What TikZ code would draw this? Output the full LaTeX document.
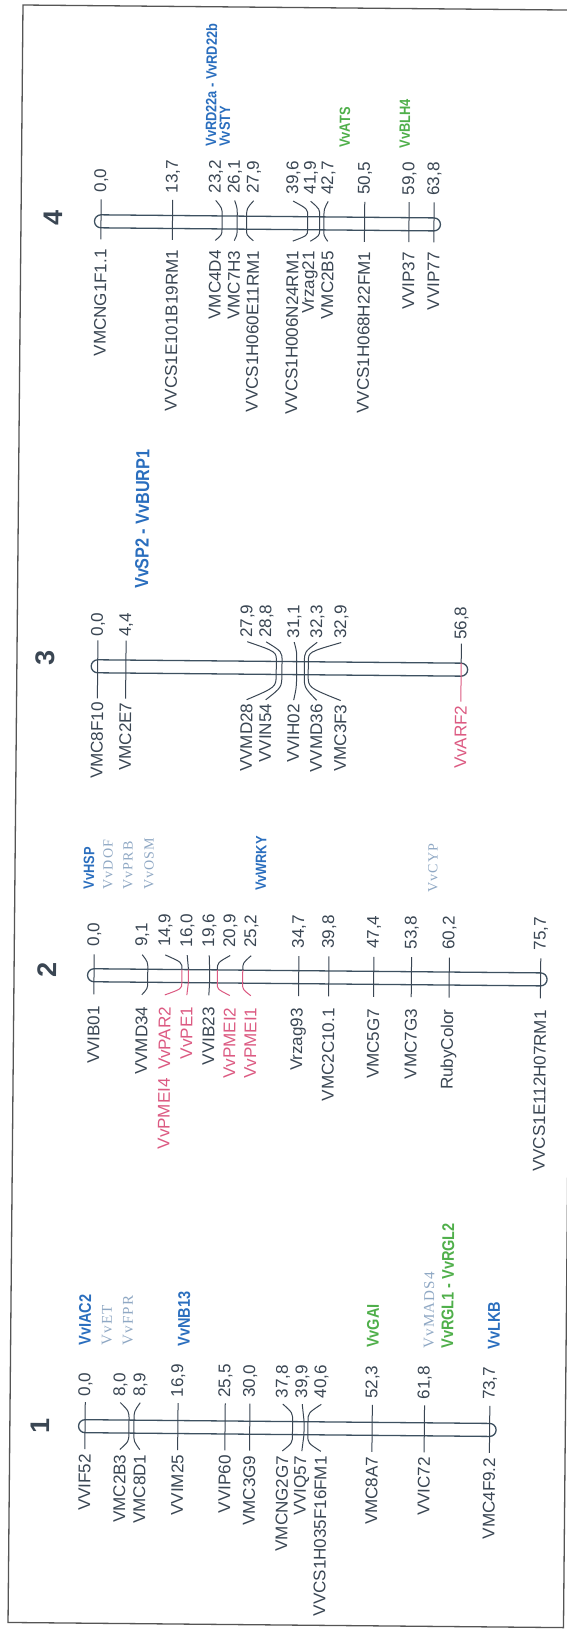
\documentclass[tikz,border=0pt]{standalone}
\usepackage{fontspec}
\setmainfont{Liberation Sans}
\newfontfamily\lblfont{Liberation Sans}
\newfontfamily\genefont[FakeStretch=0.85]{Liberation Sans}
\newfontfamily\lightfont[LetterSpace=8]{Liberation Serif}
\definecolor{ink}{HTML}{3A4653}
\definecolor{barc}{HTML}{3D5060}
\definecolor{gblue}{HTML}{2A6EBE}
\definecolor{ggreen}{HTML}{4FAF4A}
\definecolor{glight}{HTML}{8FA8C4}
\definecolor{pinkc}{HTML}{DC5A82}
\definecolor{framec}{HTML}{555555}
% #1 id, #2 bar x, #3 label x, #4 name, #5 number, #6 name colour, #7 name-side tick colour
\newcommand\mrkgen[7]{%
  \draw[mline,draw=ink] (#3,{\cY-\cTn}) .. controls (#2,{\cY-\cHw-0.5*(\cTn-\cHw)}) .. (#2,{\cY-\cHw});
  \draw[mline,draw=#7] (#2,{\cY-\cHw}) -- (#2,{\cY+\cHw});
  \draw[mline,draw=#7] (#2,{\cY+\cHw}) .. controls (#2,{\cY+\cHw+0.5*(\cTs-\cHw)}) .. (#3,{\cY+\cTs});
  \node[numlbl] (#1n) at (#3,{\cY-\cLn}) {#5};
  \node[namelbl,text=#6] (#1m) at (#3,{\cY+\cLs}) {#4};
}
\newcommand\mrk[5]{\mrkgen{#1}{#2}{#3}{#4}{#5}{ink}{ink}}
\newcommand\mrkp[5]{\mrkgen{#1}{#2}{#3}{#4}{#5}{pinkc}{pinkc}}
\begin{document}
\begin{tikzpicture}[x=1pt,y=-1pt,
  txt/.style={rotate=89.47, inner sep=0pt, outer sep=0pt},
  numlbl/.style={txt, anchor=west, text=ink, font=\lblfont\fontsize{17}{17}\selectfont},
  namelbl/.style={txt, anchor=east, font=\lblfont\fontsize{17}{17}\selectfont},
  gene/.style={txt, anchor=west, font=\genefont\bfseries\fontsize{15}{15}\selectfont},
  midgene/.style={txt, anchor=west, font=\genefont\bfseries\fontsize{17}{17}\selectfont},
  biggene/.style={txt, anchor=west, font=\genefont\bfseries\fontsize{19}{19}\selectfont},
  lgene/.style={txt, anchor=west, text=glight, font=\lightfont\fontsize{14}{14}\selectfont},
  midlgene/.style={txt, anchor=west, text=glight, font=\lightfont\fontsize{15}{15}\selectfont},
  chrnum/.style={txt, anchor=center, text=ink, font=\lblfont\bfseries\fontsize{27}{27}\selectfont},
  mline/.style={line width=1pt},
  chrbar/.style={draw=barc, line width=1.3pt, fill=white, rounded corners=6.5pt},
]
\useasboundingbox (0,0) rectangle (567,1631);
\fill[white] (0,0) rectangle (567,1631);
\clip (0,0) rectangle (567,1631);
\begin{scope}[rotate around={-0.53:(283,815)}]
\draw[framec, line width=1.3pt] (15.5,7.4) rectangle (571,1625);
\def\cHw{6.5}
% ---------------- chromosome 4
\def\cY{223}\def\cTn{22}\def\cTs{18}\def\cLn{29}\def\cLs{28}
\node[chrnum] (c4) at (47.5,220) {4};
\draw[chrbar] (89,216.5) rectangle (435,229.5);
\mrk{a1}{95.5}{95.5}{VMCNG1F1.1}{0,0}
\mrk{a2}{167}{167}{VVCS1E101B19RM1}{13,7}
\mrk{a3}{216.6}{210}{VMC4D4}{23,2}
\mrk{a4}{231.7}{229}{VMC7H3}{26,1}
\mrk{a5}{241.1}{248}{VVCS1H060E11RM1}{27,9}
\mrk{a6}{302.2}{287.5}{VVCS1H006N24RM1}{39,6}
\mrk{a7}{314.2}{305}{Vrzag21}{41,9}
\mrk{a8}{318.4}{322.5}{VMC2B5}{42,7}
\mrk{a9}{359.1}{359.1}{VVCS1H068H22FM1}{50,5}
\mrk{a10}{403.5}{403.5}{VVIP37}{59,0}
\mrk{a11}{428.5}{428.5}{VVIP77}{63,8}
\node[gene,text=gblue] (g4a) at (204.5,147) {VvRD22a - VvRD22b};
\node[gene,text=gblue] (g4b) at (218.5,147) {VvSTY};
\node[gene,text=ggreen] (g4c) at (338.5,147) {VvATS};
\node[gene,text=ggreen] (g4d) at (398.5,147) {VvBLH4};
% ---------------- chromosome 3
\def\cY{668}\def\cTn{26}\def\cTs{32}\def\cLn{30}\def\cLs{36}
\node[chrnum] (c3) at (43.6,660) {3};
\draw[chrbar] (89.8,661.5) rectangle (466.3,674.5);
\mrk{b1}{96.3}{96.3}{VMC8F10}{0,0}
\mrk{b2}{124.5}{124.5}{VMC2E7}{4,4}
\mrk{b3}{274.9}{245.6}{VVMD28}{27,9}
\mrk{b4}{280.6}{264.6}{VVIN54}{28,8}
\mrk{b5}{295.3}{292.6}{VVIH02}{31,1}
\mrk{b6}{303}{315.6}{VVMD36}{32,3}
\mrk{b7}{306.9}{339.6}{VMC3F3}{32,9}
\mrkp{b8}{459.8}{459.8}{VvARF2}{56,8}
\node[biggene,text=gblue] (g3a) at (139.6,590) {VvSP2 - VvBURP1};
% ---------------- chromosome 2
\def\cY{977}\def\cTn{21}\def\cTs{19}\def\cLn{29}\def\cLs{31}
\node[chrnum] (c2) at (48.5,972) {2};
\draw[chrbar] (89,970.5) rectangle (548.6,983.5);
\mrk{c1}{95.5}{95.5}{VVIB01}{0,0}
\mrk{c2}{149.2}{143.5}{VVMD34}{9,1}
\mrkp{c3}{183.4}{166.5}{VvPMEI4\hspace{0.5em}VvPAR2}{14,9}
\mrkp{c4}{189.9}{188.5}{VvPE1}{16,0}
\mrk{c5}{211.1}{210.5}{VVIB23}{19,6}
\mrkp{c6}{218.8}{231.5}{VvPMEI2}{20,9}
\mrkp{c7}{244.2}{252.5}{VvPMEI1}{25,2}
\mrk{c8}{300.2}{300.2}{Vrzag93}{34,7}
\mrk{c9}{330.3}{330.3}{VMC2C10.1}{39,8}
\mrk{c10}{375.2}{375.2}{VMC5G7}{47,4}
\mrk{c11}{412.9}{412.9}{VMC7G3}{53,8}
\mrk{c12}{450.7}{450.7}{RubyColor}{60,2}
\mrk{c13}{542.1}{542.1}{VVCS1E112H07RM1}{75,7}
\node[gene,text=gblue] (g2a) at (89.5,891) {VvHSP};
\node[lgene] (g2b) at (108.5,891) {VvDOF};
\node[lgene] (g2c) at (128.5,891) {VvPRB};
\node[lgene] (g2d) at (149.5,891) {VvOSM};
\node[gene,text=gblue] (g2e) at (261.5,891) {VvWRKY};
\node[lgene] (g2f) at (433.5,891) {VvCYP};
% ---------------- chromosome 1
\def\cY{1428}\def\cTn{24}\def\cTs{23}\def\cLn{30}\def\cLs{28}
\node[chrnum] (c1) at (45.7,1428) {1};
\draw[chrbar] (84.2,1421.5) rectangle (501.8,1434.5);
\mrk{d1}{90.7}{90.7}{VVIF52}{0,0}
\mrk{d2}{134.6}{125.7}{VMC2B3}{8,0}
\mrk{d3}{139.6}{145.7}{VMC8D1}{8,9}
\mrk{d4}{183.5}{183.5}{VVIM25}{16,9}
\mrk{d5}{230.7}{230.7}{VVIP60}{25,5}
\mrk{d6}{255.4}{255.4}{VMC3G9}{30,0}
\mrk{d7}{298.2}{288.2}{VMCNG2G7}{37,8}
\mrk{d8}{309.7}{307.7}{VVIQ57}{39,9}
\mrk{d9}{313.6}{326.7}{VVCS1H035F16FM1}{40,6}
\mrk{d10}{377.8}{377.8}{VMC8A7}{52,3}
\mrk{d11}{430}{430}{VVIC72}{61,8}
\mrk{d12}{495.3}{495.3}{VMC4F9.2}{73,7}
\node[midgene,text=gblue] (g1a) at (89.7,1347) {VvIAC2};
\node[midlgene] (g1b) at (111.7,1347) {VvET};
\node[midlgene] (g1c) at (132.7,1347) {VvFPR};
\node[midgene,text=gblue] (g1d) at (188.7,1347) {VvNB13};
\node[midgene,text=ggreen] (g1e) at (377.7,1347) {VvGAI};
\node[midlgene] (g1f) at (433.7,1347) {VvMADS4};
\node[midgene,text=ggreen] (g1g) at (452.2,1347) {VvRGL1 - VvRGL2};
\node[midgene,text=gblue] (g1h) at (498.7,1347) {VvLKB};
\end{scope}
\end{tikzpicture}
\end{document}
